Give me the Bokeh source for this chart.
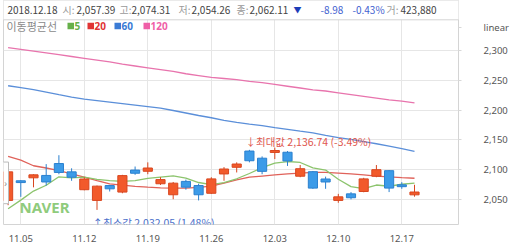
from bokeh.plotting import figure
from bokeh.models import Label, FixedTicker, ColumnDataSource, NumeralTickFormatter, Range1d
from bokeh.embed import file_html
from bokeh.resources import INLINE

# ---------------- data ----------------
dates = ["11.02",
         "11.05", "11.06", "11.07", "11.08", "11.09",
         "11.12", "11.13", "11.14", "11.15", "11.16",
         "11.19", "11.20", "11.21", "11.22", "11.23",
         "11.26", "11.27", "11.28", "11.29", "11.30",
         "12.03", "12.04", "12.05", "12.06", "12.07",
         "12.10", "12.11", "12.12", "12.13", "12.14",
         "12.17", "12.18"]
opens = [2048, 2081, 2086, 2090, 2110, 2096, 2066, 2048, 2073, 2062, 2099,
         2097, 2076, 2057.5, 2080, 2073, 2060, 2092.5, 2103.7, 2131, 2119,
         2128.7, 2129, 2088.7, 2096.3, 2084, 2048, 2059, 2063, 2088.7, 2098,
         2074.2, 2057.39]
highs = [2098, 2082, 2092, 2109, 2124, 2102, 2087, 2073, 2074, 2091, 2105,
         2112, 2087, 2079, 2083, 2076, 2087, 2104, 2112, 2133, 2122,
         2136.74, 2131, 2107.5, 2097.5, 2088, 2059, 2062, 2086, 2107.5, 2099,
         2078.7, 2074.31]
lows = [2040, 2054, 2070, 2073, 2092, 2081, 2065, 2032.05, 2063, 2060, 2091,
        2092, 2074, 2050, 2066, 2048, 2059, 2081, 2095, 2112, 2092,
        2117.5, 2106, 2087, 2067.5, 2067.5, 2044, 2049.7, 2061.7, 2087, 2062,
        2067.5, 2054.26]
closes = [2096, 2078, 2091, 2079, 2095, 2087, 2084, 2072, 2067.5, 2089.7, 2093.7,
          2102.5, 2083, 2077, 2070.3, 2057.5, 2084.2, 2100.8, 2109.2, 2114.7, 2096.86,
          2131.93, 2114.35, 2101.31, 2068.69, 2079, 2054, 2052.5, 2084.2, 2099.7, 2068.7,
          2071.09, 2062.11]
ma5 = [2034, 2048.5, 2063.7, 2073.5, 2087.7, 2085.9, 2087.2, 2083.4, 2081.2, 2080.1, 2081.4,
       2085.1, 2087.3, 2089.2, 2085.3, 2078.1, 2074.4, 2078.0, 2084.4, 2093.3, 2103.0,
       2110.7, 2113.4, 2111.8, 2102.6, 2099.1, 2083.5, 2071.1, 2067.7, 2073.9, 2071.8,
       2075.2, 2077.2]
ma20 = [2122, 2115.8, 2106.3, 2102.5, 2098, 2092.5, 2087, 2081.3, 2075.8, 2073.7, 2071.7,
        2070.3, 2069.2, 2068.7, 2068.7, 2070, 2072, 2077, 2082.5, 2087, 2089,
        2090.8, 2092.5, 2094, 2095, 2095, 2094, 2092.5, 2090.8, 2089, 2087.5,
        2086.3, 2085.3]
ma60 = [2240.8, 2237.5, 2234.2, 2230, 2225.8, 2221.7, 2218.3, 2215.8, 2213.3, 2210.8, 2208.3,
        2205.8, 2203.3, 2199.2, 2195, 2190.8, 2187, 2182.5, 2179.2, 2176.2, 2173.7,
        2170.3, 2167.5, 2164.5, 2161.7, 2157.5, 2153.7, 2150.5, 2147, 2143.3, 2139.2,
        2135, 2130.3]
ma120 = [2305, 2302, 2299, 2296, 2293, 2290, 2287, 2284, 2281, 2277, 2274,
         2271, 2268, 2265, 2261, 2258, 2255, 2253, 2251, 2248, 2246,
         2243, 2240, 2237, 2234, 2232, 2229, 2226, 2223, 2220, 2217,
         2215, 2212]
tick_dates = ["11.05", "11.12", "11.19", "11.26", "12.03", "12.10", "12.17"]
y_ticks = [2050, 2100, 2150, 2200, 2250, 2300]
ma_periods = ["5", "20", "60", "120"]
volume = 423880
last_date = "2018.12.18"
scale_name = "linear"

# ---------------- helpers: pixel position -> data position ----------------
def X(px):
    return (px - 7.6) / 12.7

def Y(py):
    return 2100 - (py - 170.5) / 0.6

UP_FILL, UP_LINE = "#f25a2b", "#d8461f"
DN_FILL, DN_LINE = "#3c9be8", "#2b80cf"
MA_COLORS = ["#8cc46d", "#e0625a", "#5b8fd9", "#e874ad"]
LEG_COLORS = ["#66b04a", "#e03434", "#3a7bd5", "#ef5fa7"]
KFONT = "Noto Sans CJK KR"

idx = list(range(len(dates)))
up = [c >= o for o, c in zip(opens, closes)]
src = ColumnDataSource(dict(
    x=idx, open=opens, close=closes, high=highs, low=lows,
    top=[max(o, c) for o, c in zip(opens, closes)],
    bottom=[min(o, c) for o, c in zip(opens, closes)],
    fill=[UP_FILL if u else DN_FILL for u in up],
    line=[UP_LINE if u else DN_LINE for u in up],
    ma5=ma5, ma20=ma20, ma60=ma60, ma120=ma120,
))

p = figure(width=520, height=244, output_backend="svg", toolbar_location=None,
           x_range=Range1d(X(3), X(458)), y_range=Range1d(Y(226), Y(0)),
           y_axis_location="right",
           min_border_left=3, min_border_right=62, min_border_top=0, min_border_bottom=18)
p.background_fill_color = "white"
p.border_fill_color = "white"
p.outline_line_color = "#d4d4d4"

# axes
tick_pos = [dates.index(d) for d in tick_dates]
p.xaxis.ticker = FixedTicker(ticks=tick_pos)
p.xaxis.major_label_overrides = {t: d for t, d in zip(tick_pos, tick_dates)}
p.xaxis.axis_line_color = None
p.xaxis.major_tick_line_color = None
p.xaxis.minor_tick_line_color = None
p.xaxis.major_label_standoff = 4
p.xaxis.major_label_text_font = "Noto Sans"
p.xaxis.major_label_text_font_size = "9.5px"
p.xaxis.major_label_text_color = "#555555"

scale_tick = 2339  # row of the "linear" caption at the top of the price scale
p.yaxis.ticker = FixedTicker(ticks=y_ticks + [scale_tick])
p.yaxis.formatter = NumeralTickFormatter(format="0,0")
p.yaxis.major_label_overrides = {scale_tick: scale_name}
p.yaxis.axis_line_color = None
p.yaxis.major_tick_in = 0
p.yaxis.major_tick_out = 3
p.yaxis.major_tick_line_color = "#d8d8d8"
p.yaxis.minor_tick_line_color = None
p.yaxis.major_label_standoff = 22
p.yaxis.major_label_text_font = "Noto Sans"
p.yaxis.major_label_text_font_size = "9.5px"
p.yaxis.major_label_text_color = "#555555"

p.xgrid.ticker = FixedTicker(ticks=tick_pos)
p.xgrid.grid_line_color = "#e6e6e6"
p.ygrid.ticker = FixedTicker(ticks=y_ticks)
p.ygrid.grid_line_color = "#e6e6e6"

# header band (covers the grid above the plot)
p.quad(left=[X(0)], right=[X(470)], top=[Y(-2)], bottom=[Y(19.5)],
       fill_color="white", line_color=None)
p.segment(x0=[X(0)], x1=[X(470)], y0=[Y(19.5)], y1=[Y(19.5)], line_color="#d4d4d4")

# moving averages
for col, colr in zip(["ma120", "ma60", "ma20", "ma5"], MA_COLORS[::-1]):
    p.line("x", col, source=src, line_color=colr, line_width=1.3)

# candles
p.segment(x0="x", y0="low", x1="x", y1="high", source=src, line_color="line", line_width=1)
p.vbar(x="x", width=0.72, top="top", bottom="bottom", source=src,
       fill_color="fill", line_color="line", line_width=1)

# left handle tab
p.quad(left=[X(-2)], right=[X(8)], top=[Y(163)], bottom=[Y(205)],
       fill_color="white", line_color="#bbbbbb")
p.add_layout(Label(x=X(3.5), y=Y(184), text="›", text_font=KFONT, text_font_size="10px",
                   text_color="#888888", text_baseline="middle"))

# legend row
p.add_layout(Label(x=X(6), y=Y(26), text="이동평균선", text_font=KFONT,
                   text_font_size="11px", text_color="#8a8a8a", text_baseline="middle"))
leg_x = [67, 87, 114, 143]
for lx, name, colr in zip(leg_x, ma_periods, LEG_COLORS):
    p.quad(left=[X(lx)], right=[X(lx + 6.5)], top=[Y(22.5)], bottom=[Y(29)],
           fill_color=colr, line_color=None)
    p.add_layout(Label(x=X(lx + 7), y=Y(25.8), text=name, text_font="Noto Sans",
                       text_font_style="bold", text_font_size="10px", text_color=colr,
                       text_baseline="middle"))

# max / min markers
hi = max(highs)
lo = min(lows)
last = closes[-1]
p.add_layout(Label(x=X(245), y=Y(142.5),
                   text="↓최대값 {:,.2f} ({:.2f}%)".format(hi, (last - hi) / hi * 100),
                   text_font=KFONT, text_font_size="10.5px", text_color="#e0564e",
                   text_baseline="middle"))
p.add_layout(Label(x=X(92), y=Y(223.5),
                   text="↑최소값 {:,.2f} ({:.2f}%)".format(lo, (last - lo) / lo * 100),
                   text_font=KFONT, text_font_size="10.5px", text_color="#4a6fca",
                   text_baseline="middle"))

# watermark
p.add_layout(Label(x=X(19), y=Y(208), text="NAVER", text_font="Noto Sans",
                   text_font_style="bold", text_font_size="15px", text_color="#8fcb7c",
                   text_baseline="middle"))

# header line
prev = closes[-2]
chg = last - prev
pct = chg / prev * 100
header = [
    (7, last_date, "#444444", "10px"),
    (62, "시:", "#9a9a9a", "10px"),
    (76, "{:,.2f}".format(opens[-1]), "#444444", "10px"),
    (119, "고:", "#9a9a9a", "10px"),
    (131, "{:,.2f}".format(highs[-1]), "#444444", "10px"),
    (178, "저:", "#9a9a9a", "10px"),
    (191, "{:,.2f}".format(lows[-1]), "#444444", "10px"),
    (236, "종:", "#9a9a9a", "10px"),
    (249, "{:,.2f}".format(last), "#444444", "10px"),
    (293, "▼", "#1d3db8", "8px"),
    (320, "{:.2f}".format(chg), "#3f5fd0", "10px"),
    (352, "{:.2f}%".format(pct), "#3f5fd0", "10px"),
    (386, "거:", "#9a9a9a", "10px"),
    (400, "{:,}".format(volume), "#444444", "10px"),
]
for hx, txt, colr, fs in header:
    p.add_layout(Label(x=X(hx), y=Y(9.5), text=txt, text_font=KFONT, text_font_size=fs,
                       text_color=colr, text_baseline="middle"))

open("out.html", "w").write(file_html(p, INLINE))
